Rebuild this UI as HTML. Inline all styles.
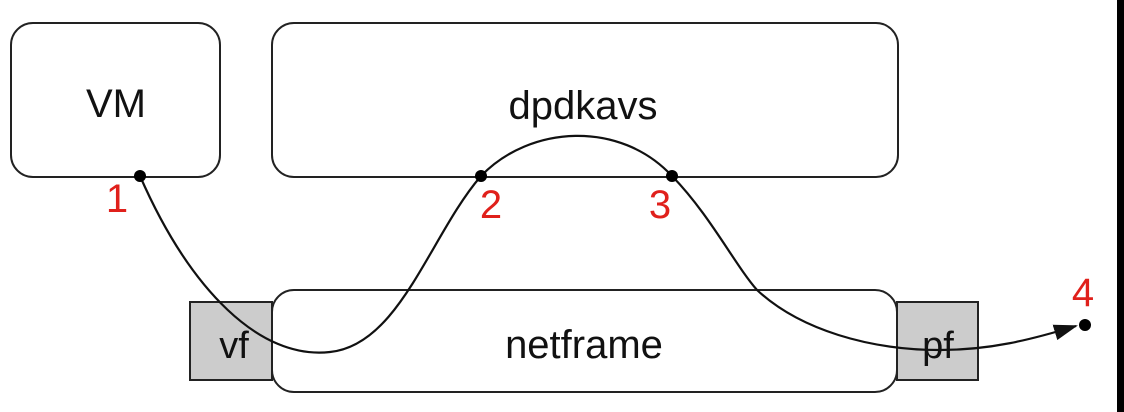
<!DOCTYPE html>
<html><head><meta charset="utf-8"><style>
html,body{margin:0;padding:0;background:#fff}
svg{display:block}
text{font-family:"Liberation Sans",sans-serif}
</style></head><body>
<svg width="1124" height="412" viewBox="0 0 1124 412">
<defs><marker id="ah" markerWidth="24" markerHeight="16" refX="22" refY="8" orient="auto" markerUnits="userSpaceOnUse"><path d="M0,0 L24,8 L0,16 Z" fill="#111"/></marker></defs>
<rect x="0" y="0" width="1124" height="412" fill="#fff"/>
<rect x="1117" y="0" width="7" height="412" fill="#000"/>
<g><rect x="11" y="23" width="209" height="154" rx="22" fill="#fff" stroke="#222" stroke-width="2"/><text x="116" y="117" font-size="40" text-anchor="middle" fill="#111">VM</text></g>
<g><rect x="272" y="23" width="626" height="154" rx="22" fill="#fff" stroke="#222" stroke-width="2"/><text x="583" y="119" font-size="40" text-anchor="middle" fill="#111">dpdkavs</text></g>
<g><rect x="272" y="290" width="625" height="102" rx="22" fill="#fff" stroke="#222" stroke-width="2"/><text x="584" y="358" font-size="40" text-anchor="middle" fill="#111">netframe</text></g>
<g><rect x="190" y="302" width="82" height="78" fill="#ccc" stroke="#222" stroke-width="2"/><text x="234" y="358" font-size="38" text-anchor="middle" fill="#111">vf</text></g>
<g><rect x="897" y="302" width="81" height="78" fill="#ccc" stroke="#222" stroke-width="2"/><text x="938" y="358" font-size="38" text-anchor="middle" fill="#111">pf</text></g>
<path d="M140,176 C190,290 260,360 330,352 C400,345 430,235 481,176 C530,125 620,120 672,176 C710,215 735,265 757,290 C800,330 870,350 940,350 C990,350 1030,340 1076,326" fill="none" stroke="#111" stroke-width="2.2" marker-end="url(#ah)"/>
<circle cx="140" cy="176" r="6" fill="#000"/>
<circle cx="481" cy="176" r="6" fill="#000"/>
<circle cx="672" cy="176" r="6" fill="#000"/>
<circle cx="1085" cy="325" r="6" fill="#000"/>
<text x="117" y="212" font-size="40" text-anchor="middle" fill="#e0201b">1</text>
<text x="491" y="218" font-size="40" text-anchor="middle" fill="#e0201b">2</text>
<text x="660" y="218" font-size="40" text-anchor="middle" fill="#e0201b">3</text>
<text x="1083" y="306" font-size="40" text-anchor="middle" fill="#e0201b">4</text>
</svg>
</body></html>
